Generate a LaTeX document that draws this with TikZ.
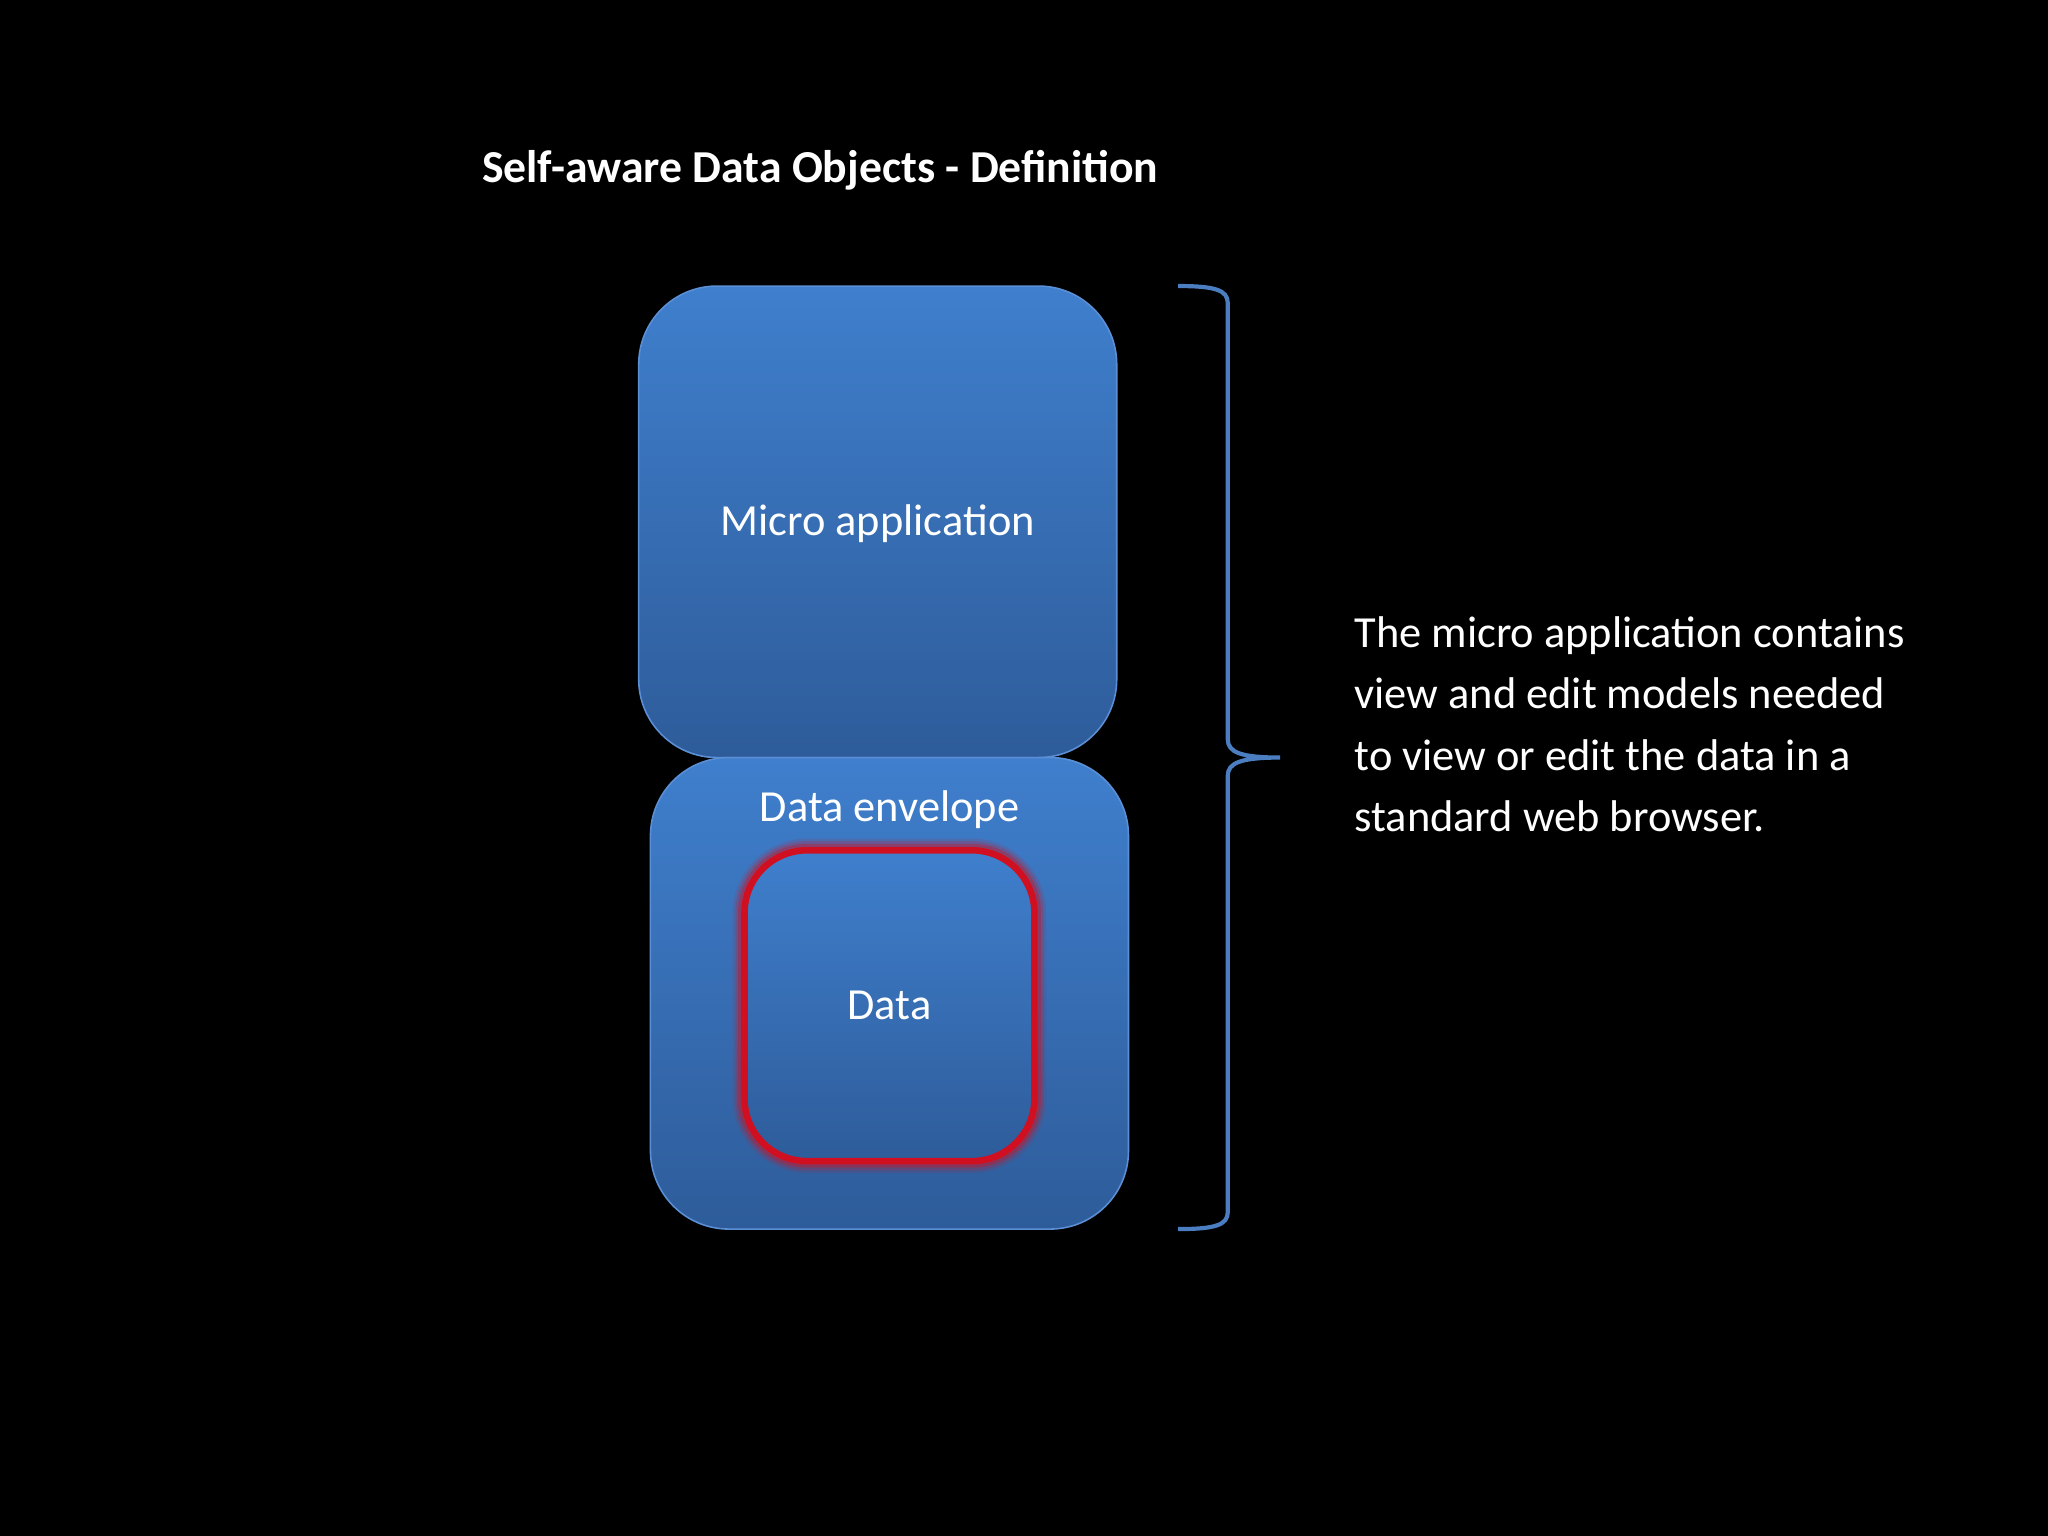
\documentclass[tikz,border=0pt]{standalone}
\usepackage{fontspec}
\setmainfont{Carlito}
\begin{document}
\begin{tikzpicture}[x=0.5pt,y=-0.5pt,
  box/.style={rounded corners=30pt,top color=boxtop,bottom color=boxbot,draw=boxedge,line width=0.6pt},
  lbl/.style={text=white,font=\fontsize{17}{20}\selectfont}]
\definecolor{boxtop}{HTML}{3F7FCD}
\definecolor{boxbot}{HTML}{2E5C9A}
\definecolor{boxedge}{HTML}{5A8FD6}
\definecolor{brace}{HTML}{4A7EC0}
\definecolor{glow}{HTML}{D01020}
\fill[black] (0,0) rectangle (1568,1176);
\useasboundingbox (0,0) rectangle (1568,1176);
\node[anchor=west,text=white,font=\bfseries\fontsize{17.5}{20}\selectfont] (title) at (362,130) {Self-aware Data Objects - Definition};
\path[box] (489,219) rectangle (855,580);
\node[lbl] (micro) at (672,401) {Micro application};
\path[box] (498,580) rectangle (864,941);
\node[lbl] (env) at (681,620) {Data envelope};
\foreach \w/\o in {9/0.12,7/0.2,5/0.35}{
  \draw[glow,line width=\w pt,opacity=\o,rounded corners=24pt] (570,651) rectangle (792,889);}
\path[rounded corners=24pt,top color=boxtop,bottom color=boxbot] (570,651) rectangle (792,889);
\draw[glow,line width=2.5pt,rounded corners=24pt] (570,651) rectangle (792,889);
\node[lbl] (data) at (681,770) {Data};
\coordinate (bt) at (902,219);
\coordinate (bb) at (902,941);
\coordinate (bm) at (980,580);
\draw[brace,line width=1.6pt] (bt) .. controls (930,219) and (940,222) .. (940,232) -- (940,566)
  .. controls (940,576) and (950,580) .. (bm)
  .. controls (950,580) and (940,584) .. (940,594) -- (940,928)
  .. controls (940,938) and (930,941) .. (bb);
\node[anchor=north west,align=left,text=white,font=\fontsize{17}{23.5}\selectfont] (desc) at (1030,465)
 {The micro application contains\\view and edit models needed\\to view or edit the data in a\\standard web browser.};
\end{tikzpicture}
\end{document}
